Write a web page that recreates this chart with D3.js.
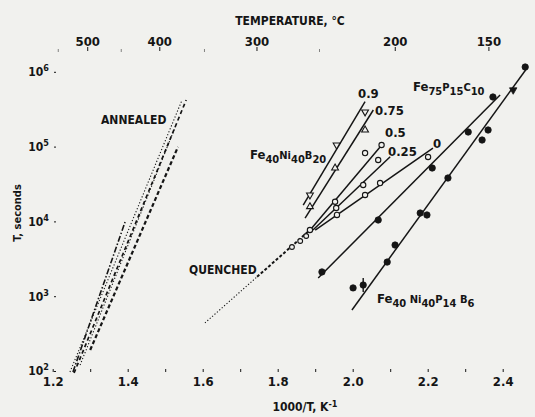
<!DOCTYPE html>
<html><head><meta charset="utf-8">
<script src="https://cdn.jsdelivr.net/npm/d3@7"></script>
<style>
html,body{margin:0;padding:0;background:#f1f1ee;}
svg{display:block;font-family:"DejaVu Sans Condensed","DejaVu Sans",sans-serif;font-weight:bold;}
</style></head><body>
<svg id="chart" width="535" height="417"></svg>
<script>
// Axis values: reciprocal temperature 1000/T (K^-1) and time in seconds
const xTickValues = [1.2,1.3,1.4,1.5,1.6,1.7,1.8,1.9,2.0,2.1,2.2,2.3,2.4];
const xTickLabels = ["1.2","","1.4","","1.6","","1.8","","2.0","","2.2","","2.4"];
const yTickValues = [1e2,1e3,1e4,1e5,1e6];
const yTickExponents = ["2","3","4","5","6"];
const tempLabelsC = [500,400,300,200,150];
const tempMinorC = [550,450,350,250];

// Annealed ribbons: [1000/T, seconds] end points
const annealedDashDot = [[1.254,97],[1.393,9820]];
const annealedDotted1 = [[1.246,97],[1.545,420000]];
const annealedDashed1 = [[1.257,94],[1.556,420000]];
const annealedDotted2 = [[1.273,120],[1.529,195000]];
const annealedDashed2 = [[1.300,191],[1.534,99000]];

// Quenched trend
const quenchedDotted = [[1.606,439],[1.745,1815]];
const quenchedDashed = [[1.745,1815],[1.886,7670]];
const quenchedPoints = [[1.838,4550],[1.860,5470],[1.876,6380]];

// Fe40Ni40B20, fraction curves
const frac09Line = [[1.868,16560],[2.033,398000]];
const frac09Pts = [[1.886,22540],[1.957,105000],[2.033,290400]];
const frac075Line = [[1.873,11090],[2.055,308300]];
const frac075Pts = [[1.886,15740],[1.953,51760],[2.033,166700]];
const frac05Line = [[1.891,8170],[2.082,111700]];
const frac05Pts = [[1.886,7670],[1.953,18320],[2.033,82000],[2.077,105000]];
const frac025Line = [[1.894,7670],[2.100,73300]];
const frac025Pts = [[1.956,15100],[2.028,30690],[2.068,66220]];
const frac0Line = [[1.900,7670],[2.214,95700]];
const frac0Pts = [[1.958,12190],[2.033,22540],[2.073,32580],[2.201,72610]];

// Fe75P15C10
const fePCLine = [[1.908,1750],[2.393,489800]];
const fePCPts = [[1.918,2110],[2.068,10440],[2.212,51760],[2.308,156700],[2.374,460300]];

// Fe40Ni40P14B6
const feNiPBLine = [[1.998,655],[2.465,1125000]];
const feNiPBPts = [[2.001,1290],[2.028,1410],[2.092,2860],[2.113,4830],[2.180,12940],[2.198,12190],[2.254,38020],[2.345,122500],[2.361,166700],[2.460,1159000]];
const feNiPBInv = [[2.428,571500]];
const feNiPBErr = [[2.028,1140,1750]];

const ink = "#151515";
const bg = "#f1f1ee";
const svg = d3.select("#chart");

const x = d3.scaleLinear().domain([1.2,2.4]).range([52.7,502.7]);
const y = d3.scaleLog().domain([1e2,1e6]).range([371,71.8]);
const line = d3.line().x(d => x(d[0])).y(d => y(d[1]));

// bottom axis
const gx = svg.append("g").attr("transform","translate(0,369)")
  .call(d3.axisBottom(x).tickValues(xTickValues).tickSize(3).tickPadding(5)
    .tickFormat((d,i) => xTickLabels[i]));
gx.select(".domain").remove();
gx.selectAll("line").attr("stroke",ink).attr("stroke-width",1);
gx.selectAll("text").attr("fill",ink).style("font-size","13px").style("font-weight","bold")
  .style("font-family","DejaVu Sans Condensed");

// left axis with powers of ten
const gy = svg.append("g").attr("transform","translate(56,0)")
  .call(d3.axisLeft(y).tickValues(yTickValues).tickSize(2).tickPadding(5).tickFormat(() => ""));
gy.select(".domain").remove();
gy.selectAll("line").attr("stroke",ink).attr("stroke-width",1);
gy.selectAll(".tick text").each(function(d,i){
  const t = d3.select(this).attr("fill",ink).style("font-size","12px").style("font-family","DejaVu Sans Condensed");
  t.append("tspan").text("10");
  t.append("tspan").attr("dy","-0.55em").style("font-size","9px").text(yTickExponents[i]);
});

// top axis in degrees Celsius
const toX = c => x(1000/(c+273.15));
const gt = svg.append("g").attr("transform","translate(0,51)");
gt.selectAll("line.maj").data(tempLabelsC).join("line")
  .attr("x1",toX).attr("x2",toX).attr("y1",-4).attr("y2",0).attr("stroke",ink);
gt.selectAll("text").data(tempLabelsC).join("text")
  .attr("x",toX).attr("y",-5).attr("text-anchor","middle").attr("fill",ink)
  .style("font-size","13px").text(d => d);
gt.selectAll("line.min").data(tempMinorC).join("line")
  .attr("x1",toX).attr("x2",toX).attr("y1",-2).attr("y2",1).attr("stroke",ink).attr("stroke-opacity",0.5);

svg.append("text").attr("x",290).attr("y",25).attr("text-anchor","middle").attr("fill",ink)
  .style("font-size","12px").text("TEMPERATURE, °C");

const xl = svg.append("text").attr("x",305).attr("y",411).attr("text-anchor","middle").attr("fill",ink)
  .style("font-size","12px");
xl.append("tspan").text("1000/T, K");
xl.append("tspan").attr("dy","-0.5em").style("font-size","9px").text("-1");

svg.append("text").attr("transform","translate(21,213) rotate(-90)").attr("text-anchor","middle")
  .attr("fill",ink).style("font-size","11px").text("T, seconds");

// annealed bundle
const plot = svg.append("g");
const drawLine = (pts, dash, w) => plot.append("path").attr("d",line(pts)).attr("fill","none")
  .attr("stroke",ink).attr("stroke-width",w).attr("stroke-dasharray",dash);
drawLine(annealedDashDot,"6,2,1.5,2",1.6);
drawLine(annealedDotted1,"1.2,2",1.1);
drawLine(annealedDashed1,"4,3",1.7);
drawLine(annealedDotted2,"1.2,2",1.1);
drawLine(annealedDashed2,"4,2.5",2.2);
drawLine(quenchedDotted,"1.2,2",1.1);
drawLine(quenchedDashed,"3,2",2);

// solid fits
[frac09Line,frac075Line,frac05Line,frac025Line,frac0Line,fePCLine,feNiPBLine]
  .forEach(p => drawLine(p,null,1.5));

// markers
const sym = (type,size) => d3.symbol().type(type).size(size)();
const markers = (pts, type, size, open, rot) => plot.selectAll(null).data(pts).join("path")
  .attr("d", sym(type,size))
  .attr("transform", d => `translate(${x(d[0])},${y(d[1])})${rot ? " rotate(180)" : ""}`)
  .attr("fill", open ? bg : ink).attr("stroke", ink).attr("stroke-width", open ? 1.1 : 0.8);

markers(quenchedPoints, d3.symbolCircle, 18, true);
markers(frac09Pts, d3.symbolTriangle, 20, true, true);
markers(frac075Pts, d3.symbolTriangle, 20, true);
markers(frac05Pts, d3.symbolCircle, 22, true);
markers(frac025Pts, d3.symbolCircle, 22, true);
markers(frac0Pts, d3.symbolCircle, 22, true);
markers(fePCPts, d3.symbolCircle, 32, false);
markers(feNiPBPts, d3.symbolCircle, 32, false);
markers(feNiPBInv, d3.symbolTriangle, 24, false, true);
plot.selectAll(null).data(feNiPBErr).join("line")
  .attr("x1", d => x(d[0])).attr("x2", d => x(d[0]))
  .attr("y1", d => y(d[1])).attr("y2", d => y(d[2])).attr("stroke",ink).attr("stroke-width",1.4);

// annotations
const note = (tx, ty, size, parts) => {
  const t = svg.append("text").attr("x",tx).attr("y",ty).attr("fill",ink).style("font-size",size+"px");
  parts.forEach(([s, sub]) => {
    t.append("tspan").attr("dy", sub === 1 ? "0.35em" : sub === -1 ? "-0.35em" : null)
      .style("font-size", sub ? (size*0.85)+"px" : null).text(s);
  });
  return t;
};
note(101,124,12,[["ANNEALED"]]);
note(189,274,12,[["QUENCHED"]]);
note(358,98,13,[["0.9"]]);
note(375,115,13,[["0.75"]]);
note(385,137,13,[["0.5"]]);
note(388,156,13,[["0.25"]]);
note(433,148,13,[["0"]]);
note(250,159,13,[["Fe"],["40",1],["Ni",-1],["40",1],["B",-1],["20",1]]);
note(413,91,13,[["Fe"],["75",1],["P",-1],["15",1],["C",-1],["10",1]]);
note(377,303,13,[["Fe"],["40",1],[" Ni",-1],["40",1],["P",-1],["14",1],[" B",-1],["6",1]]);
</script>
</body></html>
